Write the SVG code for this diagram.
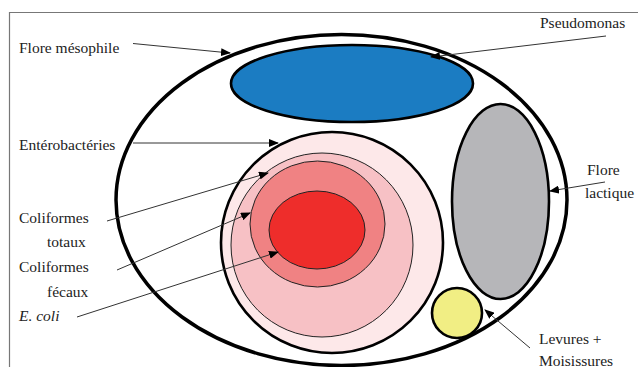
<svg xmlns="http://www.w3.org/2000/svg" width="638" height="367" viewBox="0 0 638 367">
<defs>
<style>
text{font-family:'Liberation Serif','DejaVu Serif',serif;font-size:15.5px;fill:#222}
.thick{stroke:#000;stroke-width:2.6}
.thin{stroke:#222;stroke-width:1}
.conn{stroke:#333;stroke-width:1;fill:none;marker-end:url(#ah)}
</style>
<marker id="ah" markerWidth="10" markerHeight="8" refX="9" refY="4" orient="auto" markerUnits="userSpaceOnUse">
<path d="M0,0 L10,4 L0,8 Z" fill="#000"/>
</marker>
</defs>
<rect width="638" height="367" fill="#fff"/>
<path d="M9.5,367 V12.5 H638" fill="none" stroke="#777" stroke-width="1.2"/>

<g id="flore-mesophile">
<ellipse cx="341.5" cy="200" rx="225.5" ry="165.5" fill="#fff" stroke="#000" stroke-width="3.5"/>
<text x="19" y="52.5">Flore mésophile</text>
</g>
<g id="pseudomonas">
<ellipse cx="352" cy="83.5" rx="121" ry="38.5" fill="#1b7cc2" class="thick"/>
<text x="540" y="28">Pseudomonas</text>
</g>
<g id="flore-lactique">
<ellipse cx="500.5" cy="201.5" rx="48.5" ry="97.5" fill="#b6b6b9" class="thick"/>
<text x="587" y="175">Flore</text>
<text x="585" y="198">lactique</text>
</g>
<g id="enterobacteries">
<ellipse cx="332" cy="242.5" rx="111" ry="110.5" fill="#fde8e9" class="thick"/>
<text x="19" y="150">Entérobactéries</text>
</g>
<g id="coliformes-totaux">
<ellipse cx="322" cy="245" rx="91" ry="92" fill="#f7c1c5" class="thin"/>
<text x="19" y="222.5">Coliformes</text>
<text x="47" y="247">totaux</text>
</g>
<g id="coliformes-fecaux">
<ellipse cx="317.5" cy="224" rx="67.5" ry="63" fill="#f08283" class="thin"/>
<text x="19" y="272">Coliformes</text>
<text x="47" y="296.5">fécaux</text>
</g>
<g id="e-coli">
<ellipse cx="317" cy="230" rx="48" ry="39" fill="#ee2d2b" class="thin"/>
<text x="19" y="321" font-style="italic">E. coli</text>
</g>
<g id="levures-moisissures">
<circle cx="457" cy="313" r="25" fill="#f1ee84" class="thick"/>
<text x="539" y="344">Levures +</text>
<text x="539" y="365.5">Moisissures</text>
</g>

<g id="connectors">
<line class="conn" x1="133" y1="43.5" x2="230" y2="53"/>
<line class="conn" x1="606" y1="36" x2="431" y2="57"/>
<line class="conn" x1="605" y1="182" x2="550" y2="191"/>
<line class="conn" x1="133" y1="143" x2="278" y2="143"/>
<line class="conn" x1="107" y1="221" x2="268" y2="173"/>
<line class="conn" x1="117" y1="270" x2="250" y2="213"/>
<line class="conn" x1="77" y1="317" x2="278" y2="252"/>
<line class="conn" x1="530" y1="348" x2="485" y2="310"/>
</g>
</svg>
